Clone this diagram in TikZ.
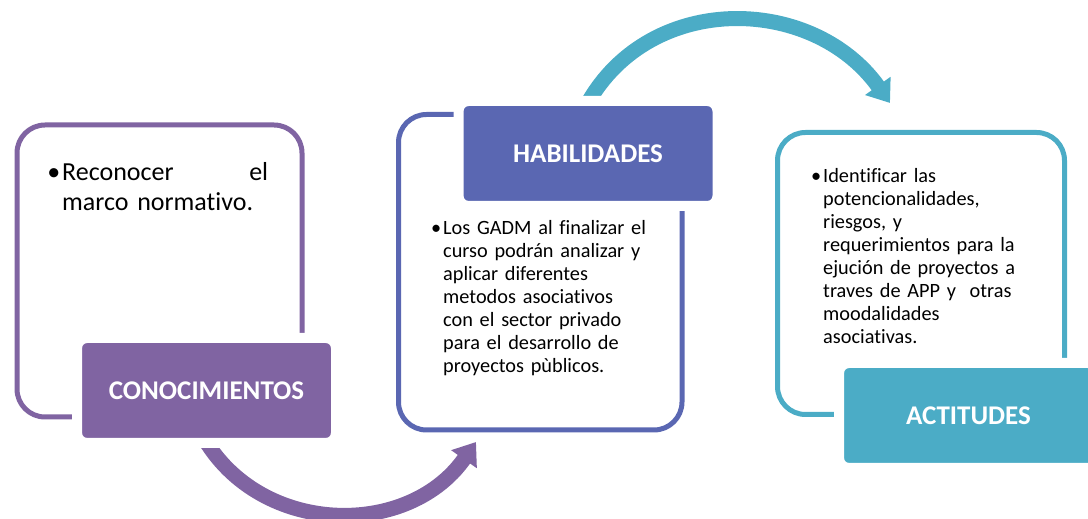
\documentclass[tikz,border=0pt]{standalone}
\usepackage{fontspec}
\setmainfont{Carlito}[Ligatures={NoCommon}]
\usepackage{xcolor}
\usepackage{tikz}
\usetikzlibrary{shapes,arrows.meta}
\definecolor{conoc}{HTML}{8064A2}
\definecolor{habil}{HTML}{5A67B2}
\definecolor{actit}{HTML}{4BACC6}
\def\headp#1#2#3#4{\node [headbox,fill=#3] (#1) at (#2) {#4}}
\tikzstyle{panel}=[rectangle,rounded corners=28pt,line width=5pt,inner sep=0pt]
\tikzstyle{headbox}=[rectangle,rounded corners=10pt,draw=white,line width=10pt,minimum width=259pt,minimum height=105pt,text=white,font=\fontsize{27}{30}\selectfont\bfseries]
\tikzstyle{bodytext}=[anchor=north west,inner sep=0pt,align=left,text width=230pt,font=\fontsize{20.3}{23.1}\selectfont]
\tikzstyle{bendarrow}=[line width=15pt,-{Triangle[width=30pt,length=21pt]},looseness=1.12]

\begin{document}
\begin{tikzpicture}[x=1pt,y=1pt]
    \useasboundingbox (0,0) rectangle (1088,519);
    % panels
    \node[panel,draw=conoc,minimum width=285pt,minimum height=292pt] (conocp) at (159.5,248) {};
    \node[panel,draw=habil,minimum width=283.5pt,minimum height=315.5pt] (habilp) at (540.25,246.75) {};
    \node[panel,draw=actit,minimum width=287pt,minimum height=282pt] (actitp) at (921,245.5) {};
    % texts
    \node[bodytext,text width=206pt,font=\fontsize{26}{30.5}\selectfont] (conoct) at (62,357)
      {\llap{\textbullet\hspace{2pt}}Reconocer\hfill el\\marco normativo.};
    \node[bodytext] (habilt) at (443,299)
      {\llap{\textbullet\hspace{2pt}}Los GADM al finalizar el\\curso podrán analizar y\\aplicar diferentes\\metodos asociativos\\con el sector privado\\para el desarrollo de\\proyectos pùblicos.};
    \node[bodytext] (actitt) at (823,351)
      {\llap{\textbullet\hspace{2pt}}Identificar las\\potencionalidades,\\riesgos, y\\requerimientos para la\\ejución de proyectos a\\traves de APP y\ \ otras\\moodalidades\\asociativas.};
    % arrows
    \coordinate (a1) at (197,94);
    \coordinate (a2) at (476,77);
    \coordinate (b1) at (584,409);
    \coordinate (b2) at (890,416);
    \draw[bendarrow,conoc] (a1) to[out=-65,in=235] (a2);
    \draw[bendarrow,actit] (b1) to[out=63,in=125.5] (b2);
    % heads
    \headp{conoch}{206.5,128.5}{conoc}{CONOCIMIENTOS};
    \headp{habilh}{588,365.5}{habil}{HABILIDADES};
    \headp{actith}{968.5,103.5}{actit}{ACTITUDES};
\end{tikzpicture}
\end{document}
